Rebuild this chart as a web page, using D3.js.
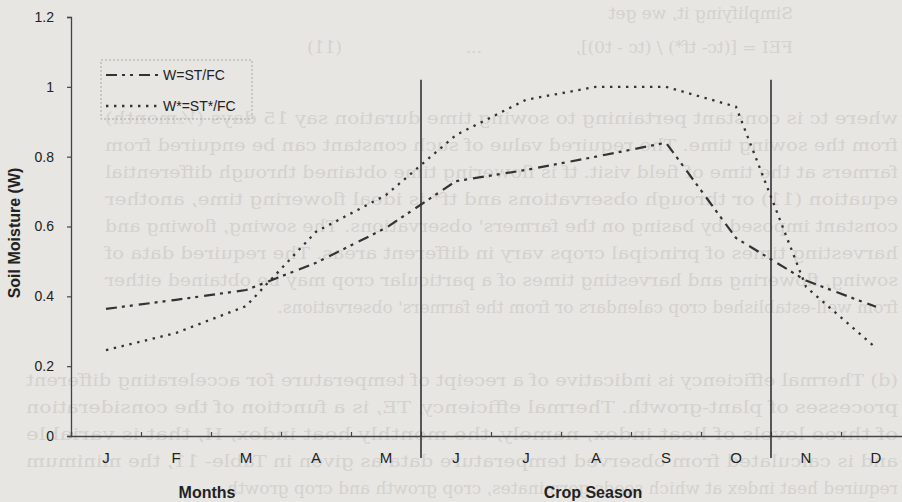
<!DOCTYPE html>
<html>
<head>
<meta charset="utf-8">
<script src="https://cdn.jsdelivr.net/npm/d3@7"></script>
<style>
  html, body { margin: 0; padding: 0; background: #e7e6e3; }
  svg { display: block; }
</style>
</head>
<body>
<svg id="chart" width="902" height="502"></svg>
<script>
// ---------------- data ----------------
const months = ["J", "F", "M", "A", "M", "J", "J", "A", "S", "O", "N", "D"];
const seriesW = [0.364, 0.390, 0.418, 0.496, 0.596, 0.730, 0.762, 0.800, 0.840, 0.567, 0.445, 0.370];     // W=ST/FC
const seriesWStar = [0.246, 0.295, 0.372, 0.585, 0.690, 0.862, 0.963, 1.000, 1.000, 0.943, 0.427, 0.252]; // W*=ST*/FC
const yTicks = [0, 0.2, 0.4, 0.6, 0.8, 1.0, 1.2];
const seasonBounds = [5, 10];        // crop-season boundaries (between May/Jun and Oct/Nov)
const seasonTop = 1.02;
const legendLabels = ["W=ST/FC", "W*=ST*/FC"];
const yTitle = "Soil Moisture (W)";
const xTitleLeft = "Months";
const xTitleRight = "Crop Season";

// faint bleed-through text of the scanned page (seen mirrored)
const bgText = [
  "Simplifying it, we get",
  "FEI = [(tc- tf*) / (tc - t0)],",
  "...",
  "(11)",
  "where tc is constant pertaining to sowing time duration say 15 days (½month)",
  "from the sowing time. The required value of such constant can be enquired from",
  "farmers at the time of field visit. tf is flowering time obtained through differential",
  "equation (11) or through observations and tf* is ideal flowering time, another",
  "constant imposed by basing on the farmers' observations. The sowing, flowing and",
  "harvesting times of principal crops vary in different areas. The required data of",
  "sowing, flowering and harvesting times of a particular crop may be obtained either",
  "from well-established crop calendars or from the farmers' observations.",
  "(d) Thermal efficiency is indicative of a receipt of temperature for accelerating different",
  "processes of plant-growth. Thermal efficiency, TE, is a function of the consideration",
  "of three levels of heat index, namely, the monthly heat index, H, that is variable",
  "and is calculated from observed temperature data as given in Table- 11, the minimum",
  "required heat index at which seeds germinates, crop growth and crop growth"
];
// layout for the bleed-through lines: [x, baseline, justified width or 0]
const bgLayout = [
  [109, 19, 0], [109, 53, 0], [420, 53, 0], [560, 53, 0],
  [4, 124, 793], [4, 151, 793], [4, 178, 793], [4, 205, 793],
  [4, 232, 793], [4, 259, 793], [4, 286, 793], [4, 313, 0],
  [4, 386, 872], [4, 413, 872], [4, 440, 872], [4, 467, 872], [4, 494, 0]
];

// ---------------- drawing ----------------
const W = 902, H = 502;
const svg = d3.select("#chart");
const plotLeft = 71, plotRight = 911, plotTop = 17, plotBottom = 436;

svg.append("rect").attr("width", W).attr("height", H).attr("fill", "#e7e6e3");

// bleed-through text
const bg = svg.append("g").attr("transform", `translate(${W},0) scale(-1,1)`);
bgText.forEach((t, i) => {
  const [x, y, w] = bgLayout[i];
  const el = bg.append("text")
    .attr("x", x).attr("y", y)
    .attr("font-family", "DejaVu Serif, Liberation Serif, serif")
    .attr("font-size", 17)
    .attr("fill", "#d4d2ce")
    .text(t);
  if (w) el.attr("textLength", w).attr("lengthAdjust", "spacingAndGlyphs");
});

const xLin = d3.scaleLinear().domain([0, 12]).range([plotLeft, plotRight]);
const xBand = d3.scaleBand().domain(d3.range(12)).range([plotLeft, plotRight]).padding(0);
const xc = i => xBand(i) + xBand.bandwidth() / 2;
const y = d3.scaleLinear().domain([0, 1.2]).range([plotBottom, plotTop]);

const axisColor = "#444";
const font = "Arial, Liberation Sans, sans-serif";

// Y axis
const yAxis = svg.append("g").attr("transform", `translate(${plotLeft},0)`)
  .call(d3.axisLeft(y).tickValues(yTicks).tickSize(4).tickPadding(13)
        .tickFormat(d => String(+d.toFixed(1))));
yAxis.select(".domain").attr("stroke", axisColor).attr("stroke-width", 1.3);
yAxis.selectAll(".tick line").attr("stroke", axisColor).attr("stroke-width", 1.2);
yAxis.selectAll(".tick text").attr("font-family", font).attr("font-size", 14).attr("fill", "#222");

// X axis: boundary ticks
const xTickAxis = svg.append("g").attr("transform", `translate(0,${plotBottom})`)
  .call(d3.axisBottom(xLin).tickValues(d3.range(0, 13)).tickSize(-4).tickFormat(""));
xTickAxis.select(".domain").attr("stroke", axisColor).attr("stroke-width", 1.3);
xTickAxis.selectAll(".tick line").attr("stroke", axisColor).attr("stroke-width", 1.2);

// X axis: month labels centred in each month
const xLabAxis = svg.append("g").attr("transform", `translate(0,${plotBottom})`)
  .call(d3.axisBottom(xBand).tickSize(0).tickPadding(16).tickFormat(i => months[i]));
xLabAxis.select(".domain").remove();
xLabAxis.selectAll(".tick text").attr("font-family", font).attr("font-size", 15).attr("fill", "#222");

// Season boundary lines
svg.append("g").selectAll("line").data(seasonBounds).join("line")
  .attr("x1", d => xLin(d)).attr("x2", d => xLin(d))
  .attr("y1", y(seasonTop)).attr("y2", plotBottom + 22)
  .attr("stroke", "#333").attr("stroke-width", 1.6);

// Series lines
const line = d3.line().x((d, i) => xc(i)).y(d => y(d));
const styleW = { dash: "11,5,3,5,3,6", width: 2.2 };
const styleWS = { dash: "2.4,5.6", width: 2.3 };

svg.append("path").datum(seriesW).attr("d", line)
  .attr("fill", "none").attr("stroke", "#333")
  .attr("stroke-width", styleW.width).attr("stroke-dasharray", styleW.dash);
svg.append("path").datum(seriesWStar).attr("d", line)
  .attr("fill", "none").attr("stroke", "#333")
  .attr("stroke-width", styleWS.width).attr("stroke-dasharray", styleWS.dash);

// Legend
const lg = svg.append("g");
lg.append("rect").attr("x", 101).attr("y", 60).attr("width", 151).attr("height", 59)
  .attr("fill", "none").attr("stroke", "#a9a8a5").attr("stroke-width", 1)
  .attr("stroke-dasharray", "2,2");
[styleW, styleWS].forEach((s, i) => {
  const ly = 75 + i * 31;
  lg.append("line").attr("x1", 106).attr("x2", 160).attr("y1", ly).attr("y2", ly)
    .attr("stroke", "#333").attr("stroke-width", s.width).attr("stroke-dasharray", s.dash);
  lg.append("text").attr("x", 163).attr("y", ly + 5)
    .attr("font-family", font).attr("font-size", 14).attr("fill", "#222")
    .text(legendLabels[i]);
});

// Axis titles
svg.append("text")
  .attr("transform", `translate(20,${233}) rotate(-90)`)
  .attr("text-anchor", "middle")
  .attr("font-family", font).attr("font-size", 16).attr("font-weight", "bold").attr("fill", "#222")
  .text(yTitle);
svg.append("text").attr("x", 207).attr("y", 498).attr("text-anchor", "middle")
  .attr("font-family", font).attr("font-size", 16).attr("font-weight", "bold").attr("fill", "#222")
  .text(xTitleLeft);
svg.append("text").attr("x", 593).attr("y", 498).attr("text-anchor", "middle")
  .attr("font-family", font).attr("font-size", 16).attr("font-weight", "bold").attr("fill", "#222")
  .text(xTitleRight);
</script>
</body>
</html>
